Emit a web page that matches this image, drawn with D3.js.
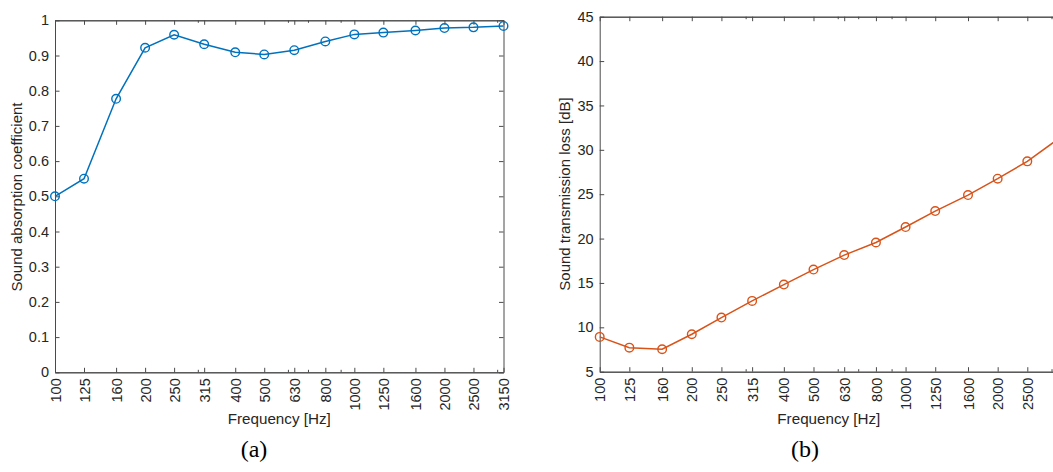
<!DOCTYPE html>
<html><head><meta charset="utf-8">
<script src="https://cdn.jsdelivr.net/npm/d3@7"></script>
<style>body{margin:0;background:#fff;overflow:hidden}svg{display:block}</style>
</head><body><svg id="c" width="1053" height="472"></svg>
<script>
const freqs = [100,125,160,200,250,315,400,500,630,800,1000,1250,1600,2000,2500,3150];
const absorption = [0.50,0.55,0.777,0.922,0.959,0.932,0.909,0.903,0.915,0.940,0.960,0.965,0.971,0.978,0.980,0.984];
const transmission = [8.92,7.71,7.53,9.22,11.1,12.98,14.82,16.51,18.14,19.56,21.3,23.1,24.9,26.75,28.7,31.2];
const minorTicks = [300,600,700,900,3000];
const yTicksA = [0,0.1,0.2,0.3,0.4,0.5,0.6,0.7,0.8,0.9,1];
const yTicksB = [5,10,15,20,25,30,35,40,45];

const svg = d3.select("#c");
const axisColor = "#4a4a4a", textColor = "#262626";
const font = "'Liberation Sans', Arial, Helvetica, sans-serif";

function panel(o){
  const g = svg.append("g");
  const x = d3.scaleLog().domain([100,3150]).range([o.x0,o.x1]);
  const y = d3.scaleLinear().domain(o.ydom).range([o.y0,o.y1]);
  const tl = 4.5, ml = 2.5;
  const bottom = d3.axisBottom(x).tickValues(freqs).tickSizeInner(-tl).tickSizeOuter(0).tickFormat(d=>d);
  const top = d3.axisTop(x).tickValues(freqs).tickSizeInner(-tl).tickSizeOuter(0).tickFormat("");
  const left = d3.axisLeft(y).tickValues(o.yticks).tickSizeInner(-tl).tickSizeOuter(0).tickFormat(o.yfmt);
  const right = d3.axisRight(y).tickValues(o.yticks).tickSizeInner(-tl).tickSizeOuter(0).tickFormat("");
  const bm = d3.axisBottom(x).tickValues(minorTicks).tickSizeInner(-ml).tickSizeOuter(0).tickFormat("");
  const tm = d3.axisTop(x).tickValues(minorTicks).tickSizeInner(-ml).tickSizeOuter(0).tickFormat("");

  const gb = g.append("g").attr("transform",`translate(0,${o.y0})`).call(bottom);
  g.append("g").attr("transform",`translate(0,${o.y0})`).call(bm);
  g.append("g").attr("transform",`translate(0,${o.y1})`).call(top);
  g.append("g").attr("transform",`translate(0,${o.y1})`).call(tm);
  const gl = g.append("g").attr("transform",`translate(${o.x0},0)`).call(left);
  g.append("g").attr("transform",`translate(${o.x1},0)`).call(right);

  g.selectAll(".domain").attr("stroke",axisColor).attr("stroke-width",1);
  g.selectAll(".tick line").attr("stroke",axisColor).attr("stroke-width",1);
  g.selectAll("text").attr("font-family",font).attr("font-size",14.5).attr("fill",textColor);

  gb.selectAll(".tick text")
    .attr("transform","rotate(-90)")
    .attr("text-anchor","end")
    .attr("x",-6).attr("y",0).attr("dy","0.35em");
  gl.selectAll(".tick text").attr("x",-6);

  const line = d3.line().x((d,i)=>x(freqs[i])).y(d=>y(d));
  g.append("path").datum(o.data).attr("d",line)
    .attr("fill","none").attr("stroke",o.color).attr("stroke-width",1.5);
  g.selectAll("circle.m").data(o.data).enter().append("circle")
    .attr("cx",(d,i)=>x(freqs[i])).attr("cy",d=>y(d)).attr("r",4.3)
    .attr("fill","none").attr("stroke",o.color).attr("stroke-width",1.4);

  g.append("text").attr("x",(o.x0+o.x1)/2 + o.xlOff).attr("y",424)
    .attr("text-anchor","middle").attr("font-family",font).attr("font-size",15.2)
    .attr("fill",textColor).text("Frequency [Hz]");
  g.append("text").attr("transform",`translate(${o.ylx},${o.ylc}) rotate(-90)`)
    .attr("text-anchor","middle").attr("dy","0.35em").attr("font-family",font).attr("font-size",15)
    .attr("fill",textColor).text(o.ylabel);
  g.append("text").attr("x",o.capx).attr("y",457)
    .attr("text-anchor","middle").attr("font-family","'Liberation Serif','Times New Roman',serif")
    .attr("font-size",24).attr("fill","#000").text(o.caption);
}

panel({x0:55,x1:503.5,y0:372.3,y1:20.3,ydom:[0,1],yticks:yTicksA,yfmt:d=>String(+d.toFixed(1)),
  data:absorption,color:"#0072BD",ylabel:"Sound absorption coefficient",ylx:17,ylc:197,xlOff:0,capx:254,caption:"(a)"});
panel({x0:599.7,x1:1058,y0:371.7,y1:16.7,ydom:[5,45],yticks:yTicksB,yfmt:d=>String(d),
  data:transmission,color:"#D95319",ylabel:"Sound transmission loss [dB]",ylx:565,ylc:194,xlOff:0,capx:805,caption:"(b)"});
</script></body></html>
